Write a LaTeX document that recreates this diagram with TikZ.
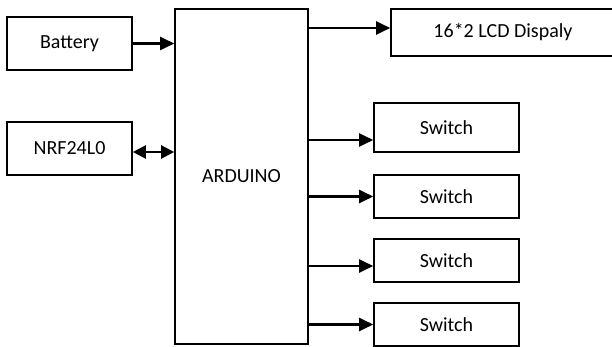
\documentclass[tikz,border=0pt]{standalone}
\usepackage{fontspec}
\setmainfont{Carlito}
\usetikzlibrary{arrows.meta}
\tikzset{
  blk/.style={draw,line width=1.6pt,rectangle,inner sep=0pt,font=\fontsize{20}{24}\selectfont},
  link/.style={line width=2.2pt,-{Triangle[length=14pt,width=13pt]}},
  duplex/.style={line width=2.2pt,{Triangle[length=13pt,width=13pt]}-{Triangle[length=13pt,width=13pt]}}
}
\begin{document}
\begin{tikzpicture}[x=1pt,y=-1pt]
    \useasboundingbox (0,0) rectangle (612,347);
    \node[blk,minimum width=125pt,minimum height=53pt] (bat) at (69.5,43.5) {Battery};
    \node[blk,minimum width=125pt,minimum height=53pt] (nrf) at (69.5,148.5) {NRF24L0};
    \node[blk,minimum width=133pt,minimum height=335pt] (ard) at (241.5,176.5) {ARDUINO};
    \node[blk,minimum width=224pt,minimum height=47pt] (lcd) at (503,32.5) {16*2 LCD Dispaly};
    \node[blk,minimum width=145pt,minimum height=49pt] (sw1) at (446.5,127.5) {Switch};
    \node[blk,minimum width=145pt,minimum height=43pt] (sw2) at (446.5,196.5) {Switch};
    \node[blk,minimum width=145pt,minimum height=43pt] (sw3) at (446.5,260.5) {Switch};
    \node[blk,minimum width=145pt,minimum height=43pt] (sw4) at (446.5,324.5) {Switch};
    % inputs
    \draw[link] (bat.east) -- (bat.east -| ard.west);
    \draw[duplex] ([yshift=-3.5pt]nrf.east) -- ([yshift=-3.5pt]nrf.east -| ard.west);
    % outputs
    \draw[link] ([yshift=4.5pt]lcd.west -| ard.east) -- ([yshift=4.5pt]lcd.west);
    \draw[link] ([yshift=-12.5pt]sw1.west -| ard.east) -- ([yshift=-12.5pt]sw1.west);
    \draw[link] (sw2.west -| ard.east) -- (sw2.west);
    \draw[link] ([yshift=-5.5pt]sw3.west -| ard.east) -- ([yshift=-5.5pt]sw3.west);
    \draw[link] (sw4.west -| ard.east) -- (sw4.west);
\end{tikzpicture}
\end{document}
